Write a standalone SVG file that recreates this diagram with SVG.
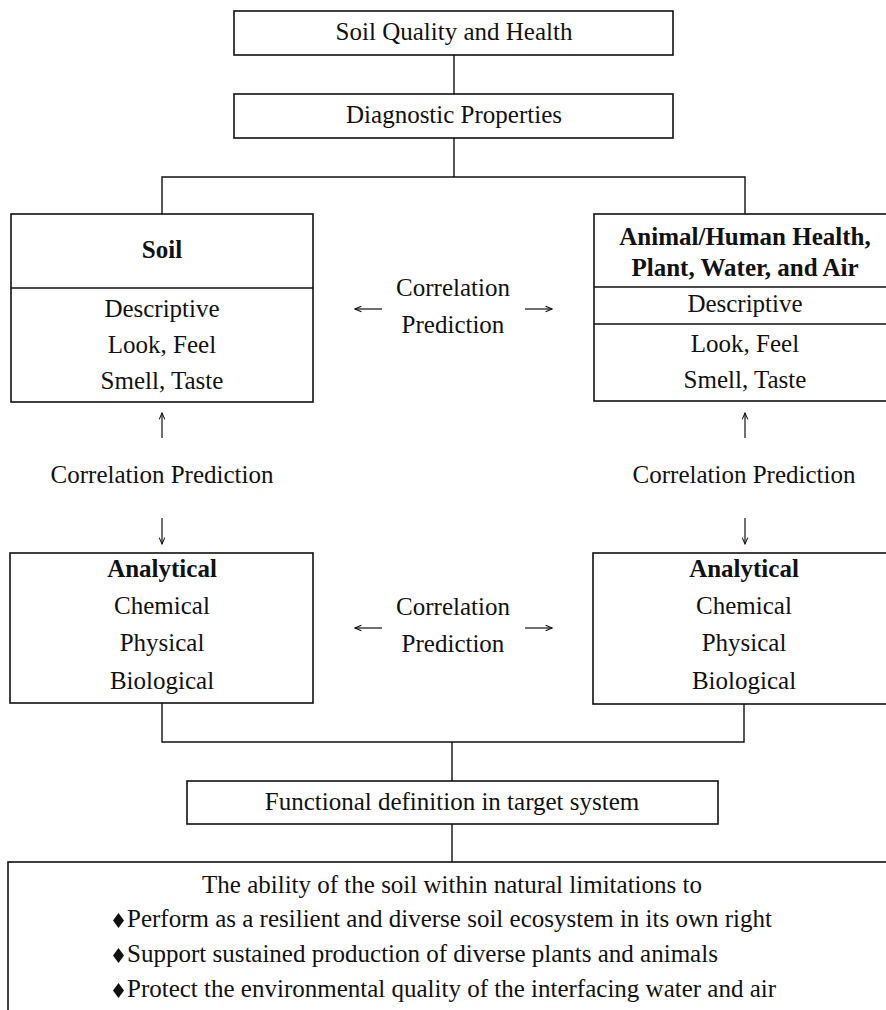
<svg xmlns="http://www.w3.org/2000/svg" width="886" height="1010" viewBox="0 0 886 1010">
<style>
.box{fill:#fff;stroke:#111;stroke-width:1.6}
.ln{fill:none;stroke:#111;stroke-width:1.4}
.ar{fill:none;stroke:#111;stroke-width:1.2}
text{font-family:"Liberation Serif","Times New Roman",serif;font-size:25px;fill:#111;text-anchor:middle}
.b{font-weight:bold}
.l{text-anchor:start}
</style>
<defs>
<marker id="ah" viewBox="0 0 10 10" refX="9" refY="5" markerWidth="8" markerHeight="8" markerUnits="userSpaceOnUse" orient="auto">
<path d="M1,1.5 L9,5 L1,8.5" fill="none" stroke="#111" stroke-width="1.3"/>
</marker>
</defs>
<rect width="886" height="1010" fill="#fff"/>
<g id="connectors">
<path class="ln" d="M454,55 V94"/>
<path class="ln" d="M454,138 V177 M162,214 V177 H745 V214"/>
<path class="ln" d="M162,703 V742 H744 V704 M452,742 V781"/>
<path class="ln" d="M452,824 V862"/>
<path class="ar" d="M162,438 V413" marker-end="url(#ah)"/>
<path class="ar" d="M162,518 V544" marker-end="url(#ah)"/>
<path class="ar" d="M745,438 V413" marker-end="url(#ah)"/>
<path class="ar" d="M745,518 V544" marker-end="url(#ah)"/>
<path class="ar" d="M382,309 H355" marker-end="url(#ah)"/>
<path class="ar" d="M525,309 H552" marker-end="url(#ah)"/>
<path class="ar" d="M382,628 H355" marker-end="url(#ah)"/>
<path class="ar" d="M525,628 H552" marker-end="url(#ah)"/>
</g>
<g id="soil-quality">
<rect class="box" x="234" y="11" width="439" height="44"/>
<text x="454" y="40">Soil Quality and Health</text>
</g>
<g id="diagnostic">
<rect class="box" x="234" y="94" width="439" height="44"/>
<text x="454" y="123">Diagnostic Properties</text>
</g>
<g id="soil">
<rect class="box" x="11" y="214" width="302" height="188"/>
<path class="ln" d="M11,288 H313"/>
<text class="b" x="162" y="258">Soil</text>
<text x="162" y="317">Descriptive</text>
<text x="162" y="353">Look, Feel</text>
<text x="162" y="389">Smell, Taste</text>
</g>
<g id="animal">
<rect class="box" x="594" y="214" width="302" height="187"/>
<path class="ln" d="M594,287 H896 M594,324 H896"/>
<text class="b" x="745" y="245">Animal/Human Health,</text>
<text class="b" x="745" y="276">Plant, Water, and Air</text>
<text x="745" y="312">Descriptive</text>
<text x="745" y="352">Look, Feel</text>
<text x="745" y="388">Smell, Taste</text>
</g>
<g id="corr-top">
<text x="453" y="296">Correlation</text>
<text x="453" y="333">Prediction</text>
</g>
<g id="corr-left">
<text x="162" y="483">Correlation Prediction</text>
</g>
<g id="corr-right">
<text x="744" y="483">Correlation Prediction</text>
</g>
<g id="analytical-left">
<rect class="box" x="10" y="553" width="303" height="150"/>
<text class="b" x="162" y="577">Analytical</text>
<text x="162" y="614">Chemical</text>
<text x="162" y="651">Physical</text>
<text x="162" y="689">Biological</text>
</g>
<g id="analytical-right">
<rect class="box" x="593" y="553" width="303" height="151"/>
<text class="b" x="744" y="577">Analytical</text>
<text x="744" y="614">Chemical</text>
<text x="744" y="651">Physical</text>
<text x="744" y="689">Biological</text>
</g>
<g id="corr-bottom">
<text x="453" y="615">Correlation</text>
<text x="453" y="652">Prediction</text>
</g>
<g id="functional">
<rect class="box" x="187" y="781" width="531" height="43"/>
<text x="452" y="810">Functional definition in target system</text>
</g>
<g id="ability">
<rect class="box" x="8" y="862" width="900" height="160"/>
<text x="452" y="893">The ability of the soil within natural limitations to</text>
<path d="M118.5,913 L124,920.5 L118.5,928 L113,920.5 Z" fill="#111"/>
<text class="l" x="127" y="927">Perform as a resilient and diverse soil ecosystem in its own right</text>
<path d="M118.5,948 L124,955.5 L118.5,963 L113,955.5 Z" fill="#111"/>
<text class="l" x="127" y="962">Support sustained production of diverse plants and animals</text>
<path d="M118.5,983 L124,990.5 L118.5,998 L113,990.5 Z" fill="#111"/>
<text class="l" x="127" y="997">Protect the environmental quality of the interfacing water and air</text>
</g>
</svg>
